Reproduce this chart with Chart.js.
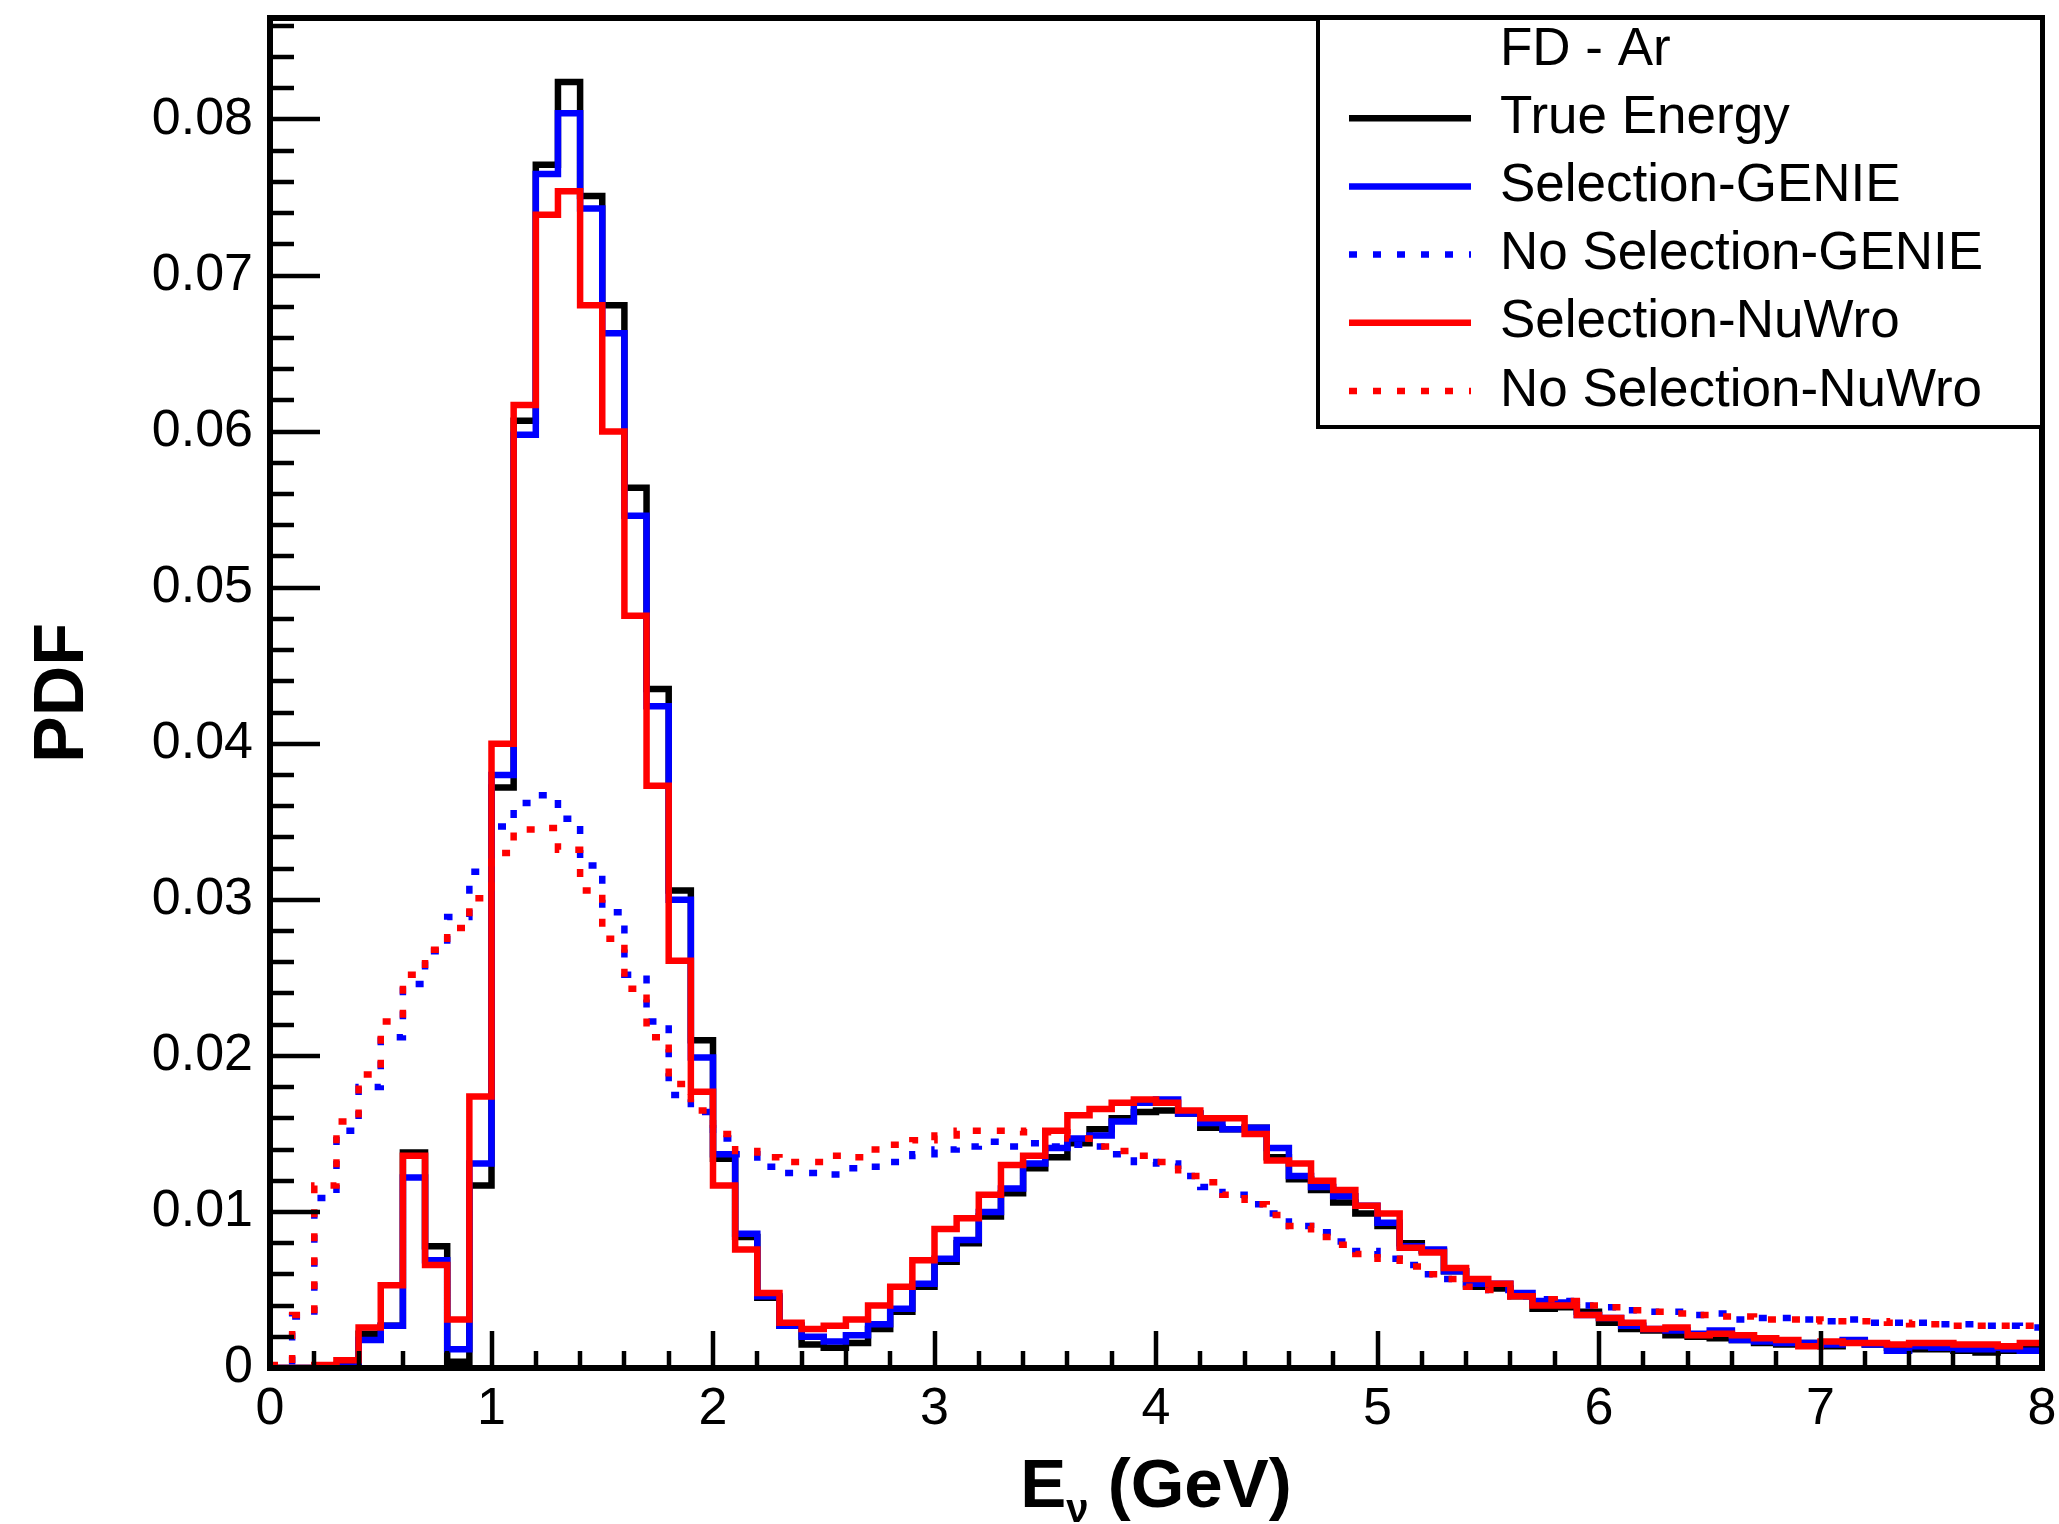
<!DOCTYPE html>
<html>
<head>
<meta charset="utf-8">
<script src="https://cdn.jsdelivr.net/npm/chart.js@4.4.1/dist/chart.umd.min.js"></script>
<style>
  html, body { margin: 0; padding: 0; background: #fff; }
  canvas { display: block; }
</style>
</head>
<body>
<canvas id="pdfChart" width="2059" height="1524"></canvas>
<script>
// 80 bins of 0.1 GeV from 0 to 8 GeV
const BIN_WIDTH = 0.1;
const X_MIN = 0, X_MAX = 8;
const Y_MAX = 0.0865;

const xTickValues = [0, 1, 2, 3, 4, 5, 6, 7, 8];
const yTickValues = [0, 0.01, 0.02, 0.03, 0.04, 0.05, 0.06, 0.07, 0.08];

const legendHeader = "FD - Ar";
const seriesLabels = ["True Energy", "Selection-GENIE", "No Selection-GENIE", "Selection-NuWro", "No Selection-NuWro"];

const trueEnergy = [
  0, 0, 0.0001, 0.0002, 0.0022, 0.0027, 0.0138, 0.0078, 0.0004, 0.0117,
  0.0372, 0.0607, 0.0771, 0.0824, 0.0751, 0.0681, 0.0564, 0.0435, 0.0306, 0.0210,
  0.0134, 0.0084, 0.0045, 0.0027, 0.0015, 0.0013, 0.0016, 0.0025, 0.0036, 0.0052,
  0.0068, 0.0080, 0.0097, 0.0112, 0.0128, 0.0135, 0.0144, 0.0153, 0.0160, 0.0164,
  0.0165, 0.0163, 0.0154, 0.0153, 0.0154, 0.0135, 0.0121, 0.0114, 0.0106, 0.0099,
  0.0091, 0.0080, 0.0075, 0.0062, 0.0052, 0.0051, 0.0046, 0.0038, 0.0039, 0.0036,
  0.0029, 0.0025, 0.0024, 0.0021, 0.0020, 0.0019, 0.0018, 0.0016, 0.0015, 0.0016,
  0.0014, 0.0017, 0.0015, 0.0013, 0.0012, 0.0012, 0.0011, 0.0010, 0.0011, 0.0013
];

const selGenie = [
  0, 0, 0.0001, 0.0001, 0.0018, 0.0027, 0.0122, 0.0069, 0.0012, 0.0131,
  0.0380, 0.0598, 0.0765, 0.0804, 0.0743, 0.0663, 0.0546, 0.0424, 0.0300, 0.0199,
  0.0137, 0.0086, 0.0046, 0.0027, 0.0020, 0.0017, 0.0021, 0.0028, 0.0038, 0.0054,
  0.0070, 0.0082, 0.0100, 0.0115, 0.0131, 0.0141, 0.0147, 0.0149, 0.0158, 0.0170,
  0.0172, 0.0163, 0.0157, 0.0153, 0.0154, 0.0141, 0.0123, 0.0116, 0.0110, 0.0104,
  0.0093, 0.0078, 0.0076, 0.0062, 0.0054, 0.0054, 0.0048, 0.0043, 0.0042, 0.0034,
  0.0032, 0.0027, 0.0025, 0.0024, 0.0022, 0.0024, 0.0018, 0.0017, 0.0016, 0.0016,
  0.0015, 0.0018, 0.0015, 0.0011, 0.0014, 0.0013, 0.0012, 0.0012, 0.0012, 0.0011
];

const noSelGenie = [
  0.0001, 0.0033, 0.0109, 0.0152, 0.0180, 0.0212, 0.0246, 0.0267, 0.0289, 0.0318,
  0.0347, 0.0362, 0.0367, 0.0352, 0.0322, 0.0292, 0.0252, 0.0222, 0.0175, 0.0164,
  0.0147, 0.0137, 0.0129, 0.0125, 0.0125, 0.0124, 0.0128, 0.0129, 0.0132, 0.0137,
  0.0140, 0.0142, 0.0145, 0.0142, 0.0144, 0.0142, 0.0143, 0.0142, 0.0137, 0.0132,
  0.0131, 0.0123, 0.0116, 0.0111, 0.0105, 0.0099, 0.0091, 0.0087, 0.0081, 0.0075,
  0.0070, 0.0066, 0.0060, 0.0057, 0.0053, 0.0050, 0.0046, 0.0044, 0.0043, 0.0040,
  0.0039, 0.0037, 0.0036, 0.0036, 0.0034, 0.0035, 0.0031, 0.0032, 0.0032, 0.0031,
  0.0030, 0.0031, 0.0029, 0.0029, 0.0029, 0.0028, 0.0028, 0.0027, 0.0027, 0.0026
];

const selNuwro = [
  0, 0, 0.0002, 0.0005, 0.0026, 0.0053, 0.0136, 0.0066, 0.0031, 0.0174,
  0.0400, 0.0617, 0.0739, 0.0754, 0.0681, 0.0600, 0.0482, 0.0373, 0.0261, 0.0177,
  0.0117, 0.0076, 0.0048, 0.0029, 0.0025, 0.0027, 0.0031, 0.0040, 0.0052, 0.0069,
  0.0089, 0.0096, 0.0111, 0.0130, 0.0136, 0.0152, 0.0162, 0.0166, 0.0170, 0.0172,
  0.0170, 0.0165, 0.0160, 0.0160, 0.0150, 0.0133, 0.0131, 0.0120, 0.0114, 0.0104,
  0.0099, 0.0077, 0.0074, 0.0064, 0.0057, 0.0054, 0.0046, 0.0040, 0.0040, 0.0034,
  0.0032, 0.0029, 0.0025, 0.0026, 0.0021, 0.0022, 0.0021, 0.0019, 0.0018, 0.0014,
  0.0017, 0.0016, 0.0016, 0.0015, 0.0016, 0.0016, 0.0015, 0.0015, 0.0014, 0.0016
];

const noSelNuwro = [
  0.0002, 0.0034, 0.0117, 0.0158, 0.0188, 0.0222, 0.0252, 0.0268, 0.0282, 0.0301,
  0.0330, 0.0345, 0.0346, 0.0332, 0.0306, 0.0275, 0.0243, 0.0212, 0.0182, 0.0165,
  0.0150, 0.0139, 0.0135, 0.0132, 0.0132, 0.0136, 0.0135, 0.0140, 0.0143, 0.0146,
  0.0149, 0.0152, 0.0152, 0.0152, 0.0151, 0.0151, 0.0147, 0.0142, 0.0139, 0.0136,
  0.0132, 0.0123, 0.0119, 0.0111, 0.0105, 0.0098, 0.0091, 0.0084, 0.0079, 0.0073,
  0.0070, 0.0065, 0.0060, 0.0057, 0.0052, 0.0050, 0.0046, 0.0044, 0.0043, 0.0040,
  0.0039, 0.0037, 0.0036, 0.0035, 0.0034, 0.0033, 0.0033, 0.0031, 0.0031, 0.0031,
  0.0030, 0.0030, 0.0030, 0.0029, 0.0028, 0.0028, 0.0027, 0.0027, 0.0027, 0.0027
];

const FONT = '"Liberation Sans", Helvetica, Arial, sans-serif';

// histogram -> step points (bin low edges plus closing point at the upper edge)
function histPoints(values) {
  const pts = values.map((v, i) => ({ x: X_MIN + i * BIN_WIDTH, y: v }));
  pts.push({ x: X_MIN + values.length * BIN_WIDTH, y: values[values.length - 1] });
  return pts;
}

function histDataset(label, values, color, dotted, order) {
  return {
    label,
    data: histPoints(values),
    borderColor: color,
    backgroundColor: color,
    borderWidth: 6.5,
    borderDash: dotted ? [8, 16] : [],
    borderCapStyle: "butt",
    borderJoinStyle: "miter",
    stepped: "before", // horizontal across the bin, then vertical at the upper edge
    pointRadius: 0,
    fill: false,
    order
  };
}

// ROOT-style frame: inner ticks, thick box, legend box, x title with subscript
const rootFramePlugin = {
  id: "rootFrame",
  afterDatasetsDraw(chart) {
    const { ctx, chartArea: a, scales: { x, y } } = chart;
    ctx.save();
    ctx.strokeStyle = "#000";
    ctx.setLineDash([]);

    // y ticks every 0.002, long every 0.01
    ctx.lineWidth = 4.5;
    for (let i = 0; i * 0.002 <= Y_MAX + 1e-9; i++) {
      const py = Math.round(y.getPixelForValue(i * 0.002));
      const len = i % 5 === 0 ? 50 : 24;
      ctx.beginPath();
      ctx.moveTo(a.left, py);
      ctx.lineTo(a.left + len, py);
      ctx.stroke();
    }
    // x ticks every 0.2, long every 1
    for (let i = 0; i * 0.2 <= X_MAX + 1e-9; i++) {
      const px = Math.round(x.getPixelForValue(i * 0.2));
      const len = i % 5 === 0 ? 37 : 17;
      ctx.beginPath();
      ctx.moveTo(px, a.bottom);
      ctx.lineTo(px, a.bottom - len);
      ctx.stroke();
    }

    // frame
    ctx.lineWidth = 6;
    ctx.strokeRect(a.left, a.top, a.right - a.left, a.bottom - a.top);

    // legend
    const lx = 1318, ly = a.top, lw = a.right - 1318, lh = 409;
    ctx.fillStyle = "#fff";
    ctx.fillRect(lx, ly, lw, lh);
    ctx.lineWidth = 4;
    ctx.strokeRect(lx, ly, lw, lh);

    ctx.fillStyle = "#000";
    ctx.font = `53px ${FONT}`;
    ctx.textBaseline = "middle";
    ctx.textAlign = "left";
    const rowH = 68.2, row0 = ly + 32;
    ctx.fillText(legendHeader, 1500, row0);
    chart.data.datasets.forEach((ds, i) => {
      const cy = row0 + rowH * (i + 1);
      ctx.strokeStyle = ds.borderColor;
      ctx.lineWidth = 6.5;
      ctx.lineCap = "butt";
      ctx.setLineDash(ds.borderDash);
      ctx.beginPath();
      ctx.moveTo(1349, cy);
      ctx.lineTo(1471, cy);
      ctx.stroke();
      ctx.setLineDash([]);
      ctx.fillText(ds.label, 1500, cy);
    });

    // x axis title: E_nu (GeV)
    const bigFont = `bold 69px ${FONT}`, subFont = `bold 40px ${FONT}`;
    ctx.font = bigFont;
    const wE = ctx.measureText("E").width;
    const wRest = ctx.measureText(" (GeV)").width;
    ctx.font = subFont;
    const wNu = ctx.measureText("\u03bd").width;
    const total = wE + wNu + wRest;
    let tx = (a.left + a.right) / 2 - total / 2;
    const base = 1507;
    ctx.textBaseline = "alphabetic";
    ctx.font = bigFont;
    ctx.fillText("E", tx, base);
    tx += wE;
    ctx.font = subFont;
    ctx.fillText("\u03bd", tx, base + 15);
    tx += wNu;
    ctx.font = bigFont;
    ctx.fillText(" (GeV)", tx, base);

    ctx.restore();
  }
};

const chart = new Chart(document.getElementById("pdfChart"), {
  type: "line",
  data: {
    datasets: [
      histDataset(seriesLabels[0], trueEnergy, "#000000", false, 4),
      histDataset(seriesLabels[1], selGenie, "#0000ff", false, 3),
      histDataset(seriesLabels[2], noSelGenie, "#0000ff", true, 2),
      histDataset(seriesLabels[3], selNuwro, "#ff0000", false, 1),
      histDataset(seriesLabels[4], noSelNuwro, "#ff0000", true, 0)
    ]
  },
  options: {
    responsive: false,
    animation: false,
    events: [],
    layout: { padding: { left: 0, top: 18, right: 17, bottom: 0 } },
    plugins: {
      legend: { display: false },
      tooltip: { enabled: false }
    },
    scales: {
      x: {
        type: "linear",
        min: X_MIN,
        max: X_MAX,
        afterBuildTicks: s => { s.ticks = xTickValues.map(v => ({ value: v })); },
        afterFit: s => { s.height = 156; s.paddingLeft = 0; s.paddingRight = 0; },
        grid: { display: false, drawTicks: false },
        border: { display: false },
        ticks: {
          color: "#000",
          padding: 10,
          maxRotation: 0,
          font: { family: FONT, size: 52 },
          callback: v => String(v)
        }
      },
      y: {
        type: "linear",
        min: 0,
        max: Y_MAX,
        afterBuildTicks: s => { s.ticks = yTickValues.map(v => ({ value: v })); },
        afterFit: s => { s.width = 270; s.paddingTop = 0; s.paddingBottom = 0; },
        grid: { display: false, drawTicks: false },
        border: { display: false },
        ticks: {
          color: "#000",
          padding: 17,
          font: { family: FONT, size: 52 },
          callback: v => v === 0 ? "0" : v.toFixed(2)
        },
        title: {
          display: true,
          text: "PDF",
          color: "#000",
          padding: { top: 22, bottom: 0 },
          font: { family: FONT, size: 70, weight: "bold" }
        }
      }
    }
  },
  plugins: [rootFramePlugin]
});
</script>
</body>
</html>
